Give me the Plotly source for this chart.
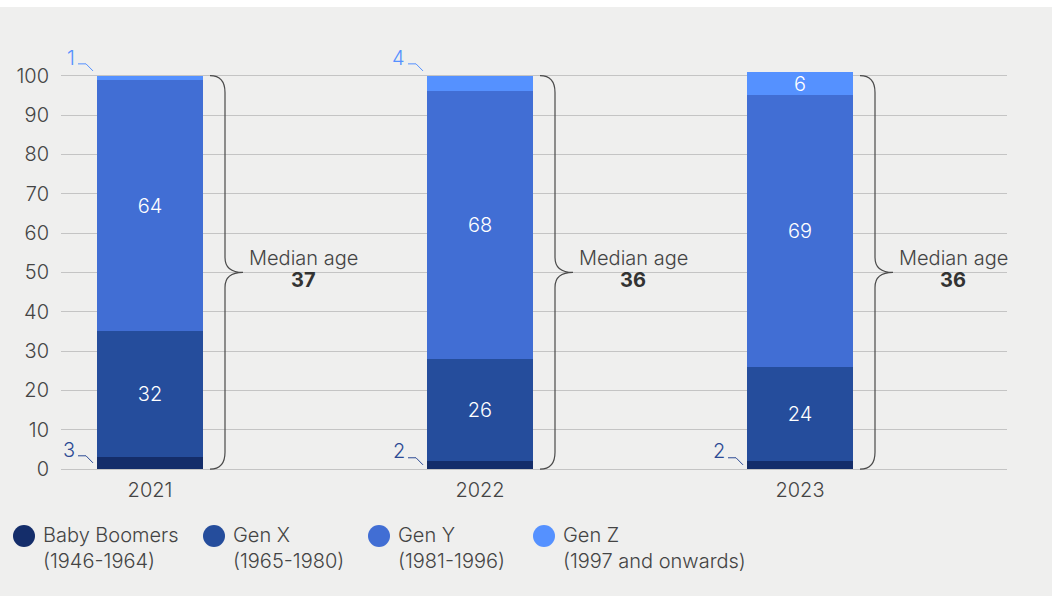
import plotly.graph_objects as go

# ---- data ----
years = ["2021", "2022", "2023"]
series_names = ["Baby Boomers", "Gen X", "Gen Y", "Gen Z"]
series_spans = ["(1946-1964)", "(1965-1980)", "(1981-1996)", "(1997 and onwards)"]
baby_boomers = [3, 2, 2]
gen_x = [32, 26, 24]
gen_y = [64, 68, 69]
gen_z = [1, 4, 6]
median_age = [37, 36, 36]

# ---- style ----
COLORS = ["#142d6a", "#254d9c", "#416ed4", "#5591ff"]
OUTSIDE_LABEL_COLORS = ["#2c4a94", "#2c4a94", "#2c4a94", "#5591ff"]
BG = "#efefee"
TEXT = "#444444"
FONT = "Inter, Lato, 'Liberation Sans', Arial, sans-serif"
FS = 20
LIGHT = 300

W, H = 1054, 596
ML, MR, MT, MB = 61, 47, 56, 115
PW, PH = W - ML - MR, H - MT - MB
Y0, Y1 = -3, 105

BAR_X = [89, 419, 739]      # bar centres along the x axis (pixel units)
BAR_W = 106

values = [baby_boomers, gen_x, gen_y, gen_z]


def px_x(px):
    return (px - ML) / PW


def px_y(py):
    return (H - MB - py) / PH


def font(color=TEXT, weight=LIGHT):
    return dict(color=color, size=FS, family=FONT, weight=weight)


fig = go.Figure()

for i, (name, vals) in enumerate(zip(series_names, values)):
    inside = [str(v) if v >= 5 else "" for v in vals]
    fig.add_trace(go.Bar(
        x=BAR_X, y=vals, width=BAR_W, name=name,
        marker=dict(color=COLORS[i], line=dict(width=0)),
        text=inside, textposition="inside", insidetextanchor="middle",
        textangle=0,
        textfont=font("white"),
        hoverinfo="skip", showlegend=False,
    ))

shapes = []
annotations = []

# small values: labels to the left of the bar with a bent leader line
for i, vals in enumerate(values):
    bottoms = [sum(values[k][j] for k in range(i)) for j in range(len(years))]
    for j, v in enumerate(vals):
        if v >= 5:
            continue
        left = BAR_X[j] - BAR_W / 2
        if i == len(values) - 1:
            top = bottoms[j] + v
            y_end, y_bend, y_txt = top + 1.2, top + 3.0, top + 4.5
        else:
            mid = bottoms[j] + v / 2
            y_end, y_bend, y_txt = mid + 0.1, mid + 1.9, mid + 3.5
        c = OUTSIDE_LABEL_COLORS[i]
        shapes.append(dict(
            type="path", xref="x", yref="y",
            path=f"M {left-19},{y_bend} L {left-11},{y_bend} L {left-4},{y_end}",
            line=dict(color=c, width=1),
        ))
        annotations.append(dict(
            x=left - 20, y=y_txt, xref="x", yref="y", text=str(v),
            showarrow=False, xanchor="right", yanchor="middle",
            font=font(c),
        ))

# curly braces with median age
for j, age in enumerate(median_age):
    right = BAR_X[j] + BAR_W / 2
    x0, xv, xp = right + 7, right + 22, right + 40
    path = (
        f"M {x0},100 Q {xv},100 {xv},95.7 L {xv},53.8 "
        f"Q {xv},50 {xp},50 Q {xv},50 {xv},46.2 "
        f"L {xv},4.3 Q {xv},0 {x0},0"
    )
    shapes.append(dict(type="path", xref="x", yref="y", path=path,
                       line=dict(color="#4a4a4a", width=1.2)))
    annotations.append(dict(
        x=right + 100, y=53.7, xref="x", yref="y", text="Median age",
        showarrow=False, xanchor="center", yanchor="middle",
        font=font(),
    ))
    annotations.append(dict(
        x=right + 100, y=48.0, xref="x", yref="y", text=str(age),
        showarrow=False, xanchor="center", yanchor="middle",
        font=font("#333333", 700),
    ))

# legend: coloured dots with two-line labels
LEG_X = [13, 203, 368, 533]
for i in range(len(series_names)):
    cx = LEG_X[i]
    shapes.append(dict(
        type="circle", xref="paper", yref="paper",
        x0=px_x(cx), x1=px_x(cx + 22), y0=px_y(547), y1=px_y(525),
        fillcolor=COLORS[i], line=dict(width=0),
    ))
    annotations.append(dict(
        x=px_x(cx + 28), y=px_y(535), xref="paper", yref="paper",
        text=series_names[i], showarrow=False, xanchor="left", yanchor="middle",
        font=font(),
    ))
    annotations.append(dict(
        x=px_x(cx + 28), y=px_y(561), xref="paper", yref="paper",
        text=series_spans[i], showarrow=False, xanchor="left", yanchor="middle",
        font=font(),
    ))

# white frame strips at the top and right edges
shapes.append(dict(type="rect", xref="paper", yref="paper", layer="below",
                   x0=px_x(0), x1=px_x(W), y0=px_y(7), y1=px_y(0),
                   fillcolor="white", line=dict(width=0)))
shapes.append(dict(type="rect", xref="paper", yref="paper", layer="below",
                   x0=px_x(1052), x1=px_x(W), y0=px_y(H), y1=px_y(0),
                   fillcolor="white", line=dict(width=0)))

fig.update_layout(
    width=W, height=H,
    margin=dict(l=ML, r=MR, t=MT, b=MB, pad=0),
    paper_bgcolor=BG, plot_bgcolor=BG,
    barmode="stack",
    font=font(),
    uniformtext=dict(minsize=FS, mode="show"),
    xaxis=dict(range=[0, PW], tickvals=BAR_X, ticktext=years,
               showgrid=False, zeroline=False, showline=False, ticks="",
               ticklabelstandoff=-5,
               tickfont=font(), fixedrange=True),
    yaxis=dict(range=[Y0, Y1], tickvals=list(range(0, 101, 10)),
               showgrid=True, gridcolor="#c4c4c4", gridwidth=1,
               zeroline=False, showline=False, ticks="",
               ticklabelstandoff=11,
               tickfont=font(), fixedrange=True),
    shapes=shapes, annotations=annotations,
    showlegend=False,
)

fig.write_html("out.html", config={"displayModeBar": False})
